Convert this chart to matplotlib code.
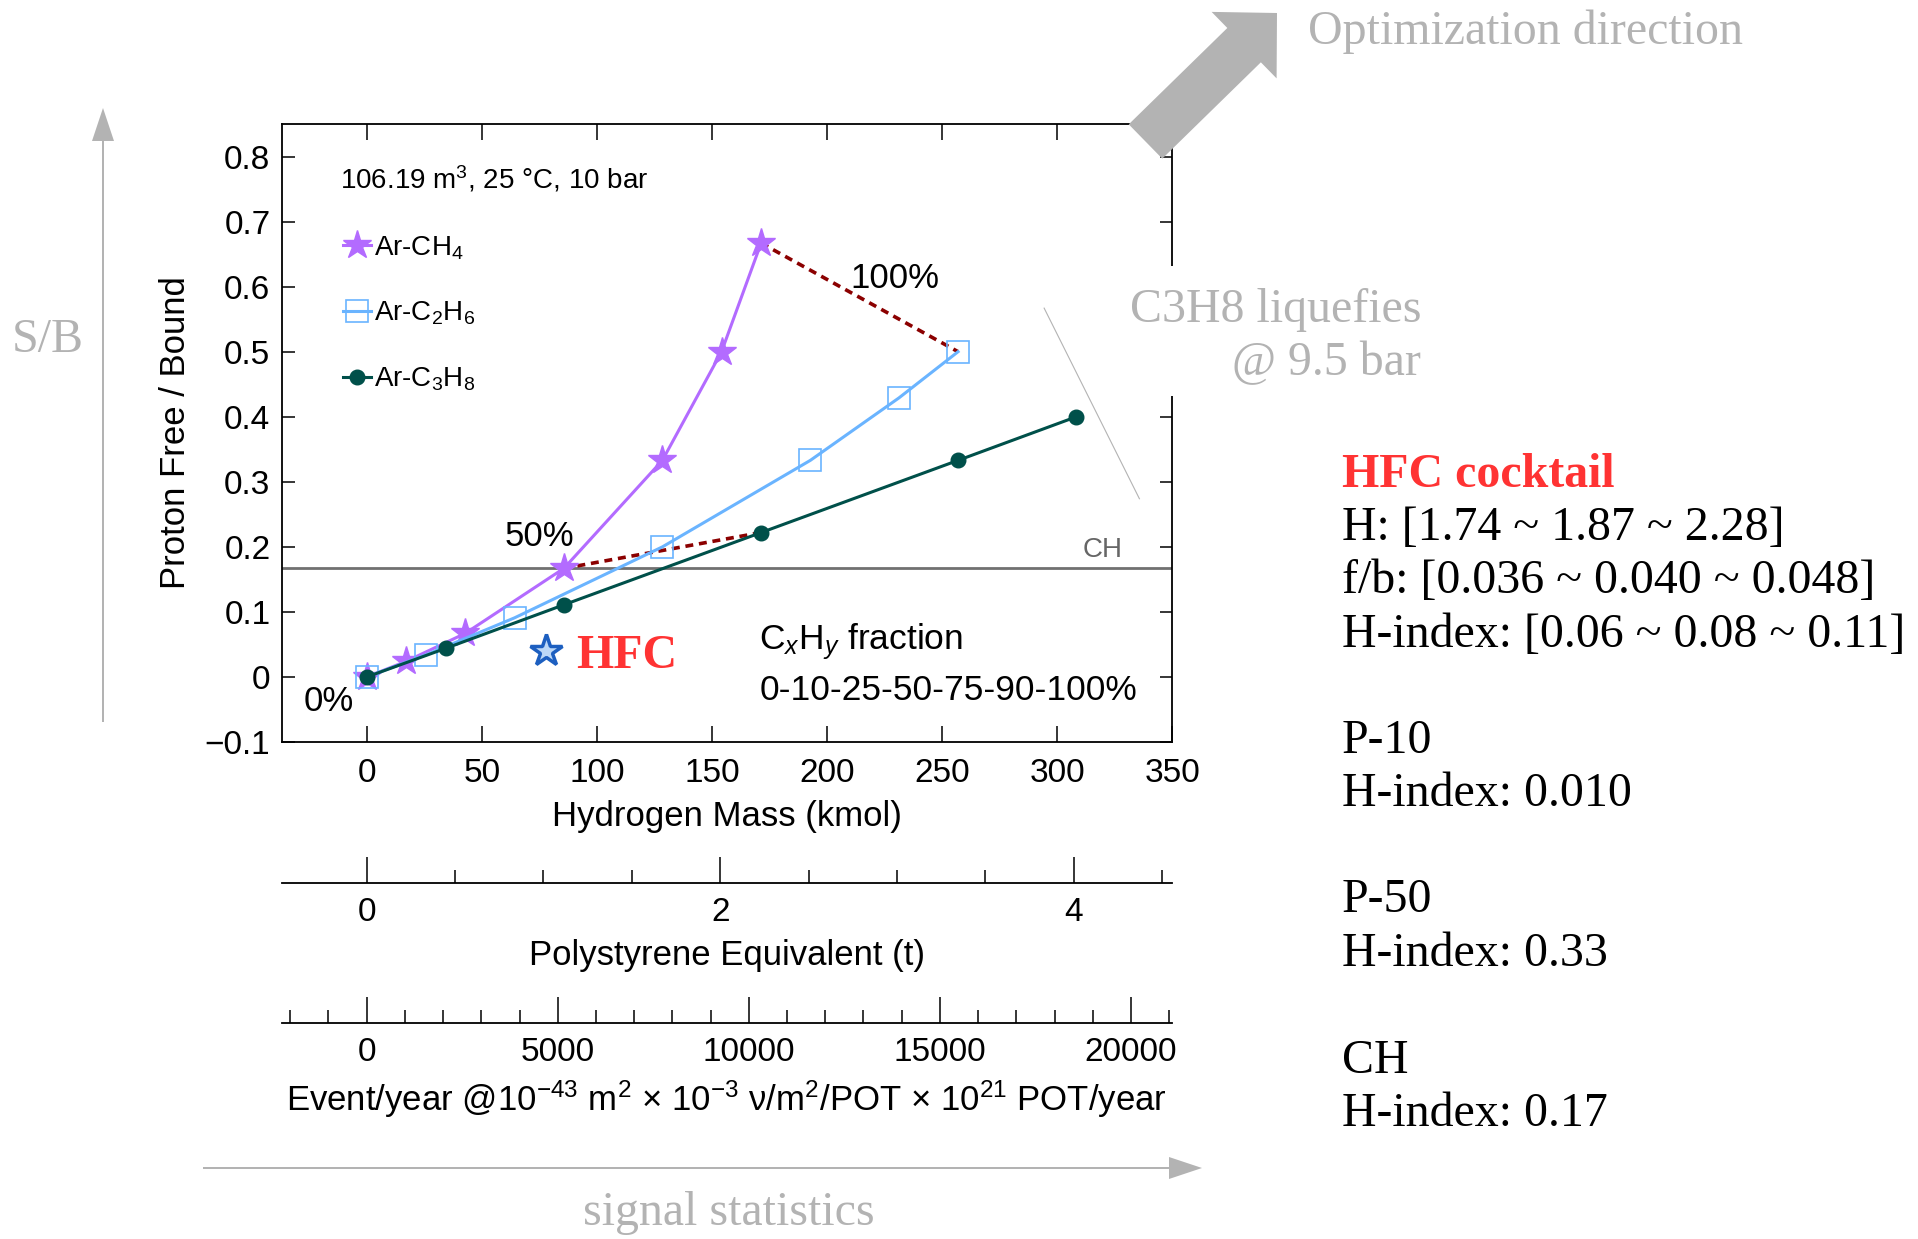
import matplotlib
matplotlib.use('Agg')
import matplotlib.pyplot as plt
from matplotlib.patches import FancyArrow, Rectangle
from matplotlib.ticker import MultipleLocator, FuncFormatter

plt.rcParams['font.family'] = ['Liberation Sans', 'DejaVu Sans']
plt.rcParams['mathtext.fontset'] = 'custom'
plt.rcParams['mathtext.rm'] = 'Liberation Sans'
plt.rcParams['mathtext.it'] = 'Liberation Sans:italic'
SERIF = ['Liberation Serif', 'DejaVu Serif']

# CxHy fraction steps in the Ar mixture (%)
fractions = [0, 10, 25, 50, 75, 90, 100]

# hydrogen mass (kmol) and free/bound proton ratio for each mixture
ch4_mass = [0, 17.1, 42.8, 85.7, 128.5, 154.2, 171.4]
ch4_ratio = [0, 0.024, 0.067, 0.167, 0.333, 0.500, 0.667]
c2h6_mass = [0, 25.7, 64.3, 128.5, 192.8, 231.3, 257.0]
c2h6_ratio = [0, 0.034, 0.091, 0.200, 0.333, 0.429, 0.500]
# propane stops at 90% (liquefies above 9.5 bar)
c3h8_mass = [0, 34.3, 85.7, 171.4, 257.0, 308.4]
c3h8_ratio = [0, 0.044, 0.111, 0.222, 0.333, 0.400]

hfc_mass = [78.0]
hfc_ratio = [0.040]
ch_ratio = 0.167

# unit conversions for the extra x axes
KMOL_PER_TONNE_PS = 76.8   # kmol H per tonne of polystyrene
EVENTS_PER_KMOL = 60.22    # events/year per kmol of free H

info_lines = [
    ('HFC cocktail', '#ff3333', 'bold'),
    ('H: [1.74 ~ 1.87 ~ 2.28]', 'black', 'normal'),
    ('f/b: [0.036 ~ 0.040 ~ 0.048]', 'black', 'normal'),
    ('H-index: [0.06 ~ 0.08 ~ 0.11]', 'black', 'normal'),
    ('P-10', 'black', 'normal'),
    ('H-index: 0.010', 'black', 'normal'),
    ('P-50', 'black', 'normal'),
    ('H-index: 0.33', 'black', 'normal'),
    ('CH', 'black', 'normal'),
    ('H-index: 0.17', 'black', 'normal'),
]
info_baselines = [487, 540, 593, 647, 753, 806, 912, 966, 1073, 1126]

PURPLE = '#b36bff'
BLUE = '#6ab4ff'
TEAL = '#00504a'
DARKRED = '#8b0000'
GRAY = '#b3b3b3'
SERIF_SIZE = 34.5

fig = plt.figure(figsize=(19.18, 12.39), dpi=100)
ax = fig.add_axes([0.1468, 0.4011, 0.4643, 0.4988])

# iso-fraction lines (50% and 100%)
i50 = fractions.index(50)
i100 = fractions.index(100)
ax.plot([ch4_mass[i50], c3h8_mass[i50]], [ch4_ratio[i50], c3h8_ratio[i50]],
        color=DARKRED, lw=2.6, dashes=(2.2, 1.6), zorder=2)
ax.plot([ch4_mass[i100], c2h6_mass[i100]], [ch4_ratio[i100], c2h6_ratio[i100]],
        color=DARKRED, lw=2.6, dashes=(2.2, 1.6), zorder=2)

ax.axhline(ch_ratio, color='#707070', lw=2, zorder=1)

ax.plot(ch4_mass, ch4_ratio, color=PURPLE, lw=2.2, marker='*', ms=21,
        mec=PURPLE, label='Ar-CH$_4$', zorder=3)
ax.plot(c2h6_mass, c2h6_ratio, color=BLUE, lw=2.2, marker='s', ms=16,
        mfc='none', mec=BLUE, mew=1.2, label='Ar-C$_2$H$_6$', zorder=3)
ax.plot(c3h8_mass, c3h8_ratio, color=TEAL, lw=2.2, marker='o', ms=10.5,
        label='Ar-C$_3$H$_8$', zorder=4)

ax.plot(hfc_mass, hfc_ratio, ls='none', marker='*', ms=24, mfc='#bcd8f7',
        mec='#1d5fc0', mew=2.5, zorder=4)
ax.text(90.9, 0.032, 'HFC', color='#ff3333', fontsize=SERIF_SIZE, fontweight='bold',
        family=SERIF, ha='left', va='center')

# propane liquefaction boundary
ax.plot([294.4, 335.8], [0.567, 0.274], color=GRAY, lw=0.8)

ax.text(-11.5, 0.751, '106.19 m$^3$, 25 °C, 10 bar', fontsize=20, va='baseline')
ax.text(-16.5, -0.0376, '0%', fontsize=25, ha='center', va='center')
ax.text(74.9, 0.216, '50%', fontsize=25, ha='center', va='center')
ax.text(229.5, 0.612, '100%', fontsize=25, ha='center', va='center')
ax.text(328.4, 0.195, 'CH', fontsize=20, color='#666666', ha='right', va='center')
ax.text(170.6, 0.0545, 'C$_x$H$_y$ fraction', fontsize=25.5, va='center')
ax.text(170.6, -0.0205, '0-10-25-50-75-90-100%', fontsize=25.5, va='center')

ax.set_xlim(-37, 350)
ax.set_ylim(-0.1, 0.85)
ax.xaxis.set_major_locator(MultipleLocator(50))
ax.yaxis.set_major_locator(MultipleLocator(0.1))
ax.yaxis.set_major_formatter(FuncFormatter(
    lambda v, _: '0' if abs(v) < 1e-9 else f'{v:.1f}'.replace('-', '\u2212')))
ax.tick_params(axis='x', direction='in', length=11.5, width=1.1, top=True,
               labelsize=24, pad=11.5)
ax.tick_params(axis='y', direction='in', length=9, width=1.1, right=True,
               labelsize=24, pad=8)
for sp in ax.spines.values():
    sp.set_linewidth(1.3)
ax.set_xlabel('Hydrogen Mass (kmol)', fontsize=25, labelpad=8)
ax.set_ylabel('Proton Free / Bound', fontsize=25, labelpad=9)

ax.legend(loc='upper left', bbox_to_anchor=(0.0687, 0.822), frameon=False,
          fontsize=20, handlelength=1.0, handletextpad=0.12, labelspacing=1.38,
          borderpad=0, borderaxespad=0, numpoints=1)

# extra x axes: polystyrene equivalent and expected event rate
ps = ax.secondary_xaxis(-0.2277, functions=(lambda m: m / KMOL_PER_TONNE_PS,
                                            lambda t: t * KMOL_PER_TONNE_PS))
ev = ax.secondary_xaxis(-0.4542, functions=(lambda m: m * EVENTS_PER_KMOL,
                                            lambda e: e / EVENTS_PER_KMOL))
ps.xaxis.set_major_locator(MultipleLocator(2))
ps.xaxis.set_minor_locator(MultipleLocator(0.5))
ev.xaxis.set_major_locator(MultipleLocator(5000))
ev.xaxis.set_minor_locator(MultipleLocator(1000))
for sec in (ps, ev):
    sec.tick_params(which='major', direction='in', length=19, width=1.1,
                    labelsize=24, pad=10.5)
    sec.tick_params(which='minor', direction='in', length=9.5, width=1.1)
    for sp in sec.spines.values():
        sp.set_linewidth(1.3)
ps.set_xlabel('Polystyrene Equivalent (t)', fontsize=25, labelpad=8)
ev.set_xlabel('Event/year @10$^{-43}$ m$^2$ \u00d7 10$^{-3}$ \u03bd/m$^2$/POT '
              '\u00d7 10$^{21}$ POT/year', fontsize=25, labelpad=7)

# overlay in figure pixels for arrows and side notes
ov = fig.add_axes([0, 0, 1, 1], zorder=5)
ov.set_xlim(0, 1918)
ov.set_ylim(1239, 0)
ov.axis('off')

ov.add_patch(FancyArrow(1145.5, 141.5, 131.5, -128.5, width=48, head_width=93,
                        head_length=46, length_includes_head=True, color=GRAY, lw=0))
ov.text(1308, 44, 'Optimization direction', family=SERIF, fontsize=SERIF_SIZE,
        color=GRAY, va='baseline')

ov.add_patch(FancyArrow(103, 722, 0, -614, width=2, head_width=22, head_length=33,
                        length_includes_head=True, color=GRAY, lw=0))
ov.text(12, 352, 'S/B', family=SERIF, fontsize=SERIF_SIZE, color=GRAY, va='baseline')

ov.add_patch(FancyArrow(203, 1168, 999, 0, width=2, head_width=22, head_length=33,
                        length_includes_head=True, color=GRAY, lw=0))
ov.text(583, 1225, 'signal statistics', family=SERIF, fontsize=SERIF_SIZE,
        color=GRAY, va='baseline')

ov.add_patch(Rectangle((1125, 266), 305, 130, fc='white', ec='none'))
ov.text(1421, 322, 'C3H8 liquefies', family=SERIF, fontsize=SERIF_SIZE, color=GRAY,
        ha='right', va='baseline')
ov.text(1421, 375, '@ 9.5 bar', family=SERIF, fontsize=SERIF_SIZE, color=GRAY,
        ha='right', va='baseline')

for (txt, col, wt), yb in zip(info_lines, info_baselines):
    ov.text(1342, yb, txt, family=SERIF, fontsize=SERIF_SIZE, color=col,
            fontweight=wt, va='baseline')

fig.savefig('out.png', dpi=100)
